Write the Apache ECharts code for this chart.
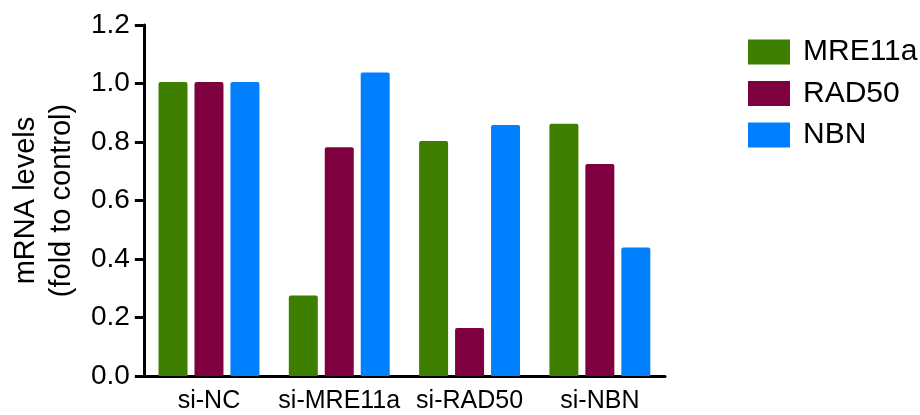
<!DOCTYPE html>
<html>
<head>
<meta charset="utf-8">
<script src="https://cdn.jsdelivr.net/npm/echarts@6/dist/echarts.min.js"></script>
<style>
  html, body { margin: 0; padding: 0; background: #fff; }
  #chart { width: 920px; height: 415px; }
</style>
</head>
<body>
<div id="chart"></div>
<script>
// Knockdown groups and relative mRNA levels for each gene
var categories = ['si-NC', 'si-MRE11a', 'si-RAD50', 'si-NBN'];
var seriesNames = ['MRE11a', 'RAD50', 'NBN'];
var mre11aValues = [1.005, 0.275, 0.803, 0.862];
var rad50Values = [1.005, 0.782, 0.164, 0.725];
var nbnValues = [1.005, 1.038, 0.858, 0.439];
var yTicks = ['0.0', '0.2', '0.4', '0.6', '0.8', '1.0', '1.2'];

var colors = ['#3f7f00', '#7f003f', '#0080ff'];
var font = 'Liberation Sans, Arial, Helvetica, sans-serif';

var chart = echarts.init(document.getElementById('chart'), null, { renderer: 'canvas' });

function barSeries(name, data, color) {
  return {
    name: name,
    type: 'bar',
    data: data,
    barWidth: 29,
    barGap: '24%',
    itemStyle: { color: color, borderRadius: [2, 2, 0, 0] }
  };
}

chart.setOption({
  animation: false,
  backgroundColor: '#ffffff',
  grid: { left: 140, right: 255, top: 25, bottom: 39, containLabel: false },
  legend: {
    orient: 'vertical',
    left: 743,
    top: 32,
    itemWidth: 42,
    itemHeight: 25,
    itemGap: 11.5,
    icon: 'rect',
    data: seriesNames,
    textStyle: { fontFamily: font, fontSize: 30, color: '#000', padding: [0, 0, 0, 8], lineHeight: 28 }
  },
  xAxis: {
    type: 'category',
    data: categories,
    axisLine: { lineStyle: { color: '#000', width: 3 } },
    axisTick: { alignWithLabel: true, length: 10, lineStyle: { color: '#000', width: 3 } },
    axisLabel: { interval: 0, fontFamily: font, fontSize: 25, color: '#000', margin: 13 }
  },
  yAxis: {
    type: 'value',
    min: 0,
    max: 1.2,
    interval: 0.2,
    name: 'mRNA levels\n(fold to control)',
    nameLocation: 'middle',
    nameRotate: 90,
    nameGap: 62,
    nameTextStyle: { fontFamily: font, fontSize: 29, color: '#000', lineHeight: 36 },
    axisLine: { show: true, lineStyle: { color: '#000', width: 3 } },
    axisTick: { show: true, length: 9, lineStyle: { color: '#000', width: 3 } },
    splitLine: { show: false },
    axisLabel: {
      fontFamily: font, fontSize: 28, color: '#000', margin: 14,
      formatter: function (v) { return yTicks[Math.round(v / 0.2)]; }
    }
  },
  series: [
    barSeries(seriesNames[0], mre11aValues, colors[0]),
    barSeries(seriesNames[1], rad50Values, colors[1]),
    barSeries(seriesNames[2], nbnValues, colors[2])
  ]
});
</script>
</body>
</html>
